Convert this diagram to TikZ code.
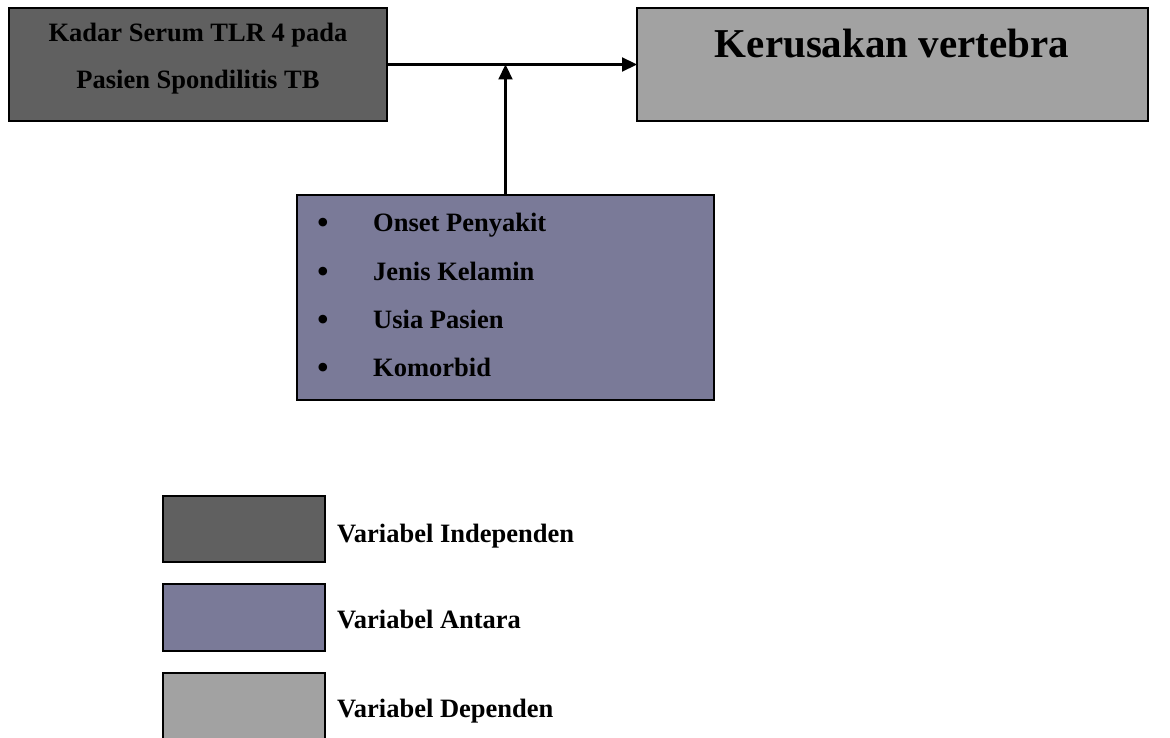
\documentclass[tikz,border=0pt]{standalone}
\usepackage{fontspec}
\setmainfont{Liberation Serif}
\usetikzlibrary{arrows.meta}
\definecolor{indep}{RGB}{96,96,96}
\definecolor{antara}{RGB}{122,122,152}
\definecolor{depen}{RGB}{162,162,162}
\begin{document}
\begin{tikzpicture}[x=1pt,y=-1pt,
  box/.style={draw=black,line width=2pt,rectangle,inner sep=0pt,outer sep=0pt,anchor=north west},
  lbl/.style={font=\fontsize{26.5}{30}\selectfont\bfseries,inner sep=0pt,anchor=base west},
  ctr/.style={lbl,anchor=base},
  bul/.style={font=\fontsize{36}{40}\selectfont,inner sep=0pt,anchor=base},
  big/.style={font=\fontsize{41}{46}\selectfont\bfseries,inner sep=0pt,anchor=base},
  arr/.style={line width=2.2pt,-{Triangle[length=15pt,width=14pt]}}]
\useasboundingbox (0,0) rectangle (1170,738);
\clip (0,0) rectangle (1170,738);
% main boxes
\node[box,fill=indep,minimum width=378pt,minimum height=113pt] (a) at (9,8) {};
\node[ctr] (a1) at (198,42) {Kadar Serum TLR 4 pada};
\node[ctr] (a2) at (198,89) {Pasien Spondilitis TB};
\node[box,fill=depen,minimum width=511pt,minimum height=113pt] (b) at (637,8) {};
\node[big] (b1) at (892,58) {Kerusakan vertebra};
\node[box,fill=antara,minimum width=417pt,minimum height=205pt] (c) at (297,195) {};
\node[bul] (c1b) at (323,235) {•};
\node[lbl] (c1) at (373,232) {Onset Penyakit};
\node[bul] (c2b) at (323,283) {•};
\node[lbl] (c2) at (373,280) {Jenis Kelamin};
\node[bul] (c3b) at (323,331) {•};
\node[lbl] (c3) at (373,328) {Usia Pasien};
\node[bul] (c4b) at (323,379) {•};
\node[lbl] (c4) at (373,376) {Komorbid};
% connectors
\draw[arr] (a.east) -- (b.west);
\coordinate (j) at (c.north |- a.east);
\draw[arr] (c.north) -- (j);
% legend
\node[box,fill=indep,minimum width=162pt,minimum height=66pt] (l1) at (163,496) {};
\node[lbl] (t1) at (337,542) {Variabel Independen};
\node[box,fill=antara,minimum width=162pt,minimum height=67pt] (l2) at (163,584) {};
\node[lbl] (t2) at (337,628) {Variabel Antara};
\node[box,fill=depen,minimum width=162pt,minimum height=80pt] (l3) at (163,673) {};
\node[lbl] (t3) at (337,717) {Variabel Dependen};
\end{tikzpicture}
\end{document}
